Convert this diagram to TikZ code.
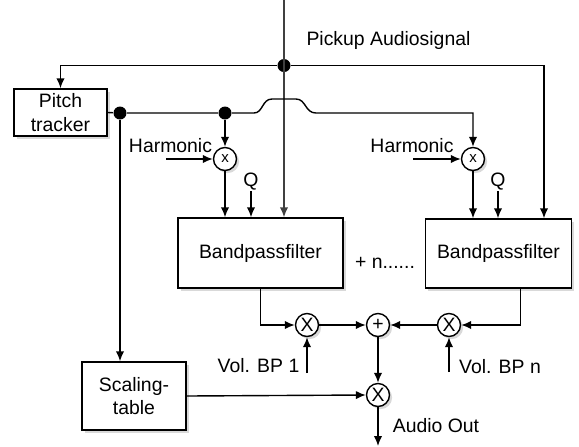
\documentclass[tikz,border=0pt]{standalone}
\usepackage{fontspec}
\setmainfont{Liberation Sans}
\usepackage{tikz}
\usetikzlibrary{arrows.meta,positioning,calc,shadows}

\begin{document}
\begin{tikzpicture}[
  x=0.5pt, y=-0.5pt,
  font=\fontsize{9.7}{11.6}\selectfont,
  line width=0.7pt,
  arr/.style={-{Latex[length=5pt,width=4.2pt]}},
  shade/.style={drop shadow={shadow xshift=1.3pt, shadow yshift=-1.3pt, opacity=0.3}},
  block/.style={draw, fill=white, shade, align=center, inner sep=0pt},
  op/.style={circle, draw, fill=white, shade, inner sep=0pt, minimum size=11.5pt},
  dot/.style={circle, fill, inner sep=0pt, minimum size=6.5pt},
  lab/.style={inner sep=0pt}
]
\useasboundingbox (0,0) rectangle (579,446);

% blocks
\node[block, minimum width=46.5pt, minimum height=23.5pt] (pitch) at (60.5,112.5) {Pitch\\tracker};
\node[block, minimum width=82.5pt, minimum height=35pt] (bpl) at (260.5,253) {Bandpassfilter};
\node[block, minimum width=73pt, minimum height=34.5pt] (bpr) at (498.5,253.5) {Bandpassfilter};
\node[block, minimum width=52pt, minimum height=34pt] (scale) at (134,396) {Scaling-\\table};

% operators
\node[op, font=\fontsize{7.5}{8}\selectfont] (hmul1) at (225,159) {x};
\node[op, font=\fontsize{7.5}{8}\selectfont] (hmul2) at (473,159) {x};
\node[op] (vmul1) at (307,325) {X};
\node[op] (sum) at (378,325) {+};
\node[op] (vmuln) at (449,325) {X};
\node[op] (omul) at (378,395) {X};

% labels
\node[lab] (pickup) at (388.5,40) {Pickup Audiosignal};
\node[lab] (harm1) at (170.5,146) {Harmonic};
\node[lab] (harm2) at (412,146) {Harmonic};
\node[lab] (q1) at (251,182) {Q};
\node[lab] (q2) at (498,182) {Q};
\node[lab] (more) at (385,263) {+ n......};
\node[lab] (vol1) at (258.5,366) {Vol. BP 1};
\node[lab] (voln) at (500,367) {Vol. BP n};
\node[lab] (audio) at (436,426) {Audio Out};

% junctions and free ends
\coordinate (top) at (284,0);
\node[dot] (j0) at (284,65.5) {};
\node[dot] (j1) at (120,113) {};
\node[dot] (j2) at (225,113) {};
\coordinate (h1in) at (166,159);
\coordinate (h2in) at (413,159);
\coordinate (v1in) at (307,373);
\coordinate (vnin) at (449,372);
\coordinate (out) at (378,446);

% pickup signal
\draw[arr, black!75] (top) -- (top |- bpl.north);
\draw[arr] (j0) -| (pitch.north);
\draw[arr] (j0) -| ($(bpr.north)+(45.5,0)$);

% pitch tracker output
\draw (pitch.east) -- (j1) -- (j2);
\draw[arr] (j2) -- (hmul1.north);
\draw[arr] (j2) -- (254,113) .. controls (263,113) and (262,99) .. (272,99)
  -- (296,99) .. controls (306,99) and (305,113) .. (316,113) -| (hmul2.north);
\draw[arr] (j1) -- (j1 |- scale.north);

% harmonic multipliers
\draw[arr] (h1in) -- (hmul1.west);
\draw[arr] (h2in) -- (hmul2.west);
\draw[arr] (hmul1.south) -- (hmul1 |- bpl.north);
\draw[arr] (hmul2.south) -- (hmul2 |- bpr.north);
\draw[arr] (q1.south) -- (q1.south |- bpl.north);
\draw[arr] (q2.south) -- (q2.south |- bpr.north);

% volume and sum
\draw[arr] (bpl.south) |- (vmul1.west);
\draw[arr] ($(bpr.south)+(22,0)$) |- (vmuln.east);
\draw[arr] (v1in) -- (vmul1.south);
\draw[arr] (vnin) -- (vmuln.south);
\draw[arr] (vmul1.east) -- (sum.west);
\draw[arr] (vmuln.west) -- (sum.east);
\draw[arr] (sum.south) -- (omul.north);
\draw[arr] (scale.east) -- (omul.west);
\draw[arr] (omul.south) -- (out);
\end{tikzpicture}
\end{document}
